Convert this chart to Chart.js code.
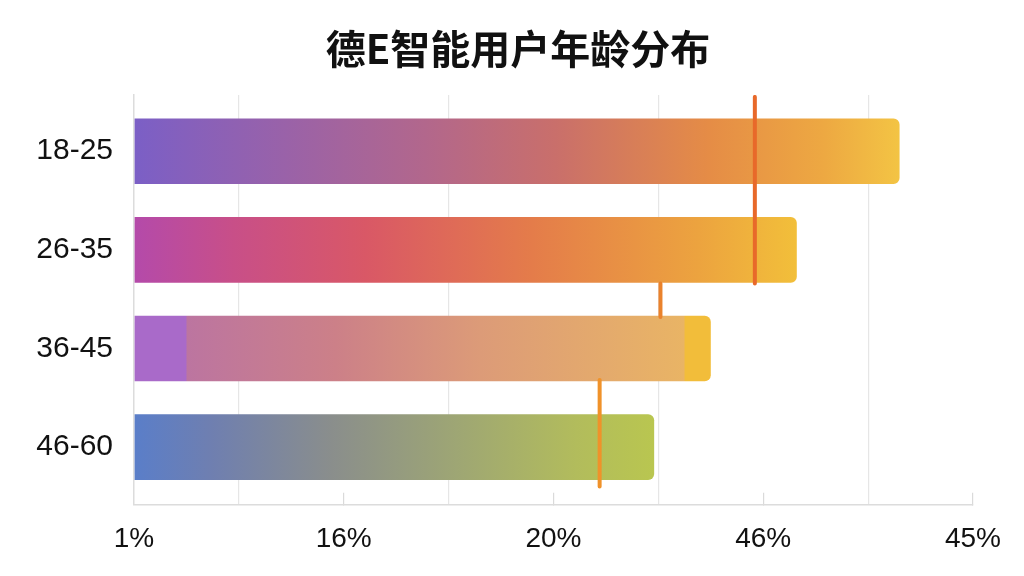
<!DOCTYPE html>
<html>
<head>
<meta charset="utf-8">
<script src="https://cdn.jsdelivr.net/npm/chart.js@4/dist/chart.umd.min.js"></script>
<style>
  html, body { margin: 0; padding: 0; background: #ffffff; }
  #wrap { width: 1024px; height: 576px; }
</style>
</head>
<body>
<div id="wrap"><canvas id="ageChart"></canvas></div>
<script>
// Age groups and user share (%)
const ageGroups = ['18-25', '26-35', '36-45', '46-60'];
const shares = [36.5, 31.6, 27.5, 24.8];

// x axis labels as printed on the chart (every 10 units)
const xTickLabels = ['1%', '16%', '20%', '46%', '45%'];

// orange marker lines: value and vertical extent (in age-group index units)
const markerValues = [29.6, 25.1, 22.2];
const markerFrom = [-0.55, 1.34, 2.32];
const markerTo = [1.34, 1.68, 3.4];

// gradient stops per bar
const barStops = [
    [[0, '#7b5fc6'], [0.2, '#9a62a8'], [0.38, '#b2678c'], [0.55, '#c96f6b'], [0.75, '#e58c46'], [0.9, '#eda842'], [1, '#f3c444']],
    [[0, '#b44aaa'], [0.15, '#c84f88'], [0.35, '#d95866'], [0.6, '#e47c4a'], [0.85, '#eca33f'], [1, '#f2bf3a']],
    [[0, '#a96ac9'], [0.09, '#a96ac9'], [0.092, '#bc75a0'], [0.35, '#cc8088'], [0.6, '#dc9b78'], [0.953, '#e9b465'], [0.956, '#f2bd3a'], [1, '#f2bd3a']],
    [[0, '#5a7ec9'], [0.15, '#6f7fb0'], [0.38, '#8a8e8c'], [0.62, '#9ea674'], [0.85, '#b2bc5c'], [1, '#b9c650']]
];
const markerColors = ['#e8692a', '#ea822c', '#f0922a'];

function barGradient(ctx) {
    let chart = ctx.chart;
    let stops = barStops[ctx.dataIndex] || barStops[0];
    if (!chart.chartArea || ctx.type !== 'data') return stops[0][1];
    let xs = chart.scales.x;
    let x0 = xs.getPixelForValue(0);
    let x1 = xs.getPixelForValue(shares[ctx.dataIndex]);
    let g = chart.ctx.createLinearGradient(x0, 0, x1, 0);
    stops.forEach(s => g.addColorStop(s[0], s[1]));
    return g;
}

let datasets = [{
    type: 'bar',
    data: shares.map((v, i) => ({ x: v, y: i })),
    backgroundColor: barGradient,
    borderWidth: 0,
    borderRadius: 6,
    borderSkipped: 'start',
    barPercentage: 1,
    categoryPercentage: 0.665,
    order: 2
}];

markerValues.forEach((v, i) => {
    datasets.push({
        type: 'line',
        data: [{ x: v, y: markerFrom[i] }, { x: v, y: markerTo[i] }],
        borderColor: markerColors[i],
        borderWidth: 4,
        borderCapStyle: 'round',
        pointRadius: 0,
        fill: false,
        order: 1
    });
});

let ctx = document.getElementById('ageChart').getContext('2d');
let ageChart = new Chart(ctx, {
    data: { datasets: datasets },
    options: {
        indexAxis: 'y',
        responsive: true,
        maintainAspectRatio: false,
        animation: false,
        layout: { padding: { left: 12, right: 0, top: 0, bottom: -9 } },
        plugins: {
            legend: { display: false },
            tooltip: { enabled: false },
            title: {
                display: true,
                text: '德E智能用户年龄分布',
                color: '#111111',
                font: { family: "'Noto Sans CJK SC'", size: 40, weight: 'bold' },
                padding: { top: 25, bottom: 22 }
            }
        },
        scales: {
            x: {
                type: 'linear',
                min: 0,
                max: 40,
                ticks: {
                    stepSize: 5,
                    autoSkip: false,
                    maxRotation: 0,
                    padding: 23,
                    color: '#111111',
                    font: { family: "'Liberation Sans', Arial, sans-serif", size: 28, lineHeight: 1.65 },
                    callback: v => (v % 10 === 0 ? xTickLabels[v / 10] : '')
                },
                grid: {
                    color: c => (c.tick && c.tick.value % 10 === 5 ? '#e6e6e6' : 'rgba(0,0,0,0)'),
                    tickColor: c => (c.tick && c.tick.value % 10 === 0 && c.tick.value > 0 ? '#dadada' : 'rgba(0,0,0,0)'),
                    tickLength: -12,
                    lineWidth: 1.2
                },
                border: { color: '#dcdcdc', width: 1.5 }
            },
            y: {
                type: 'linear',
                reverse: true,
                bounds: 'data',
                offset: false,
                min: -0.57,
                max: 3.585,
                afterFit: scale => { scale.width = 122; },
                afterBuildTicks: scale => { scale.ticks = ageGroups.map((g, i) => ({ value: i })); },
                ticks: {
                    padding: 21,
                    color: '#111111',
                    font: { family: "'Liberation Sans', Arial, sans-serif", size: 30 },
                    callback: v => (ageGroups[v] !== undefined ? ageGroups[v] : '')
                },
                grid: { drawOnChartArea: false, drawTicks: false },
                border: { color: '#dcdcdc', width: 1.5 }
            }
        }
    }
});
</script>
</body>
</html>
